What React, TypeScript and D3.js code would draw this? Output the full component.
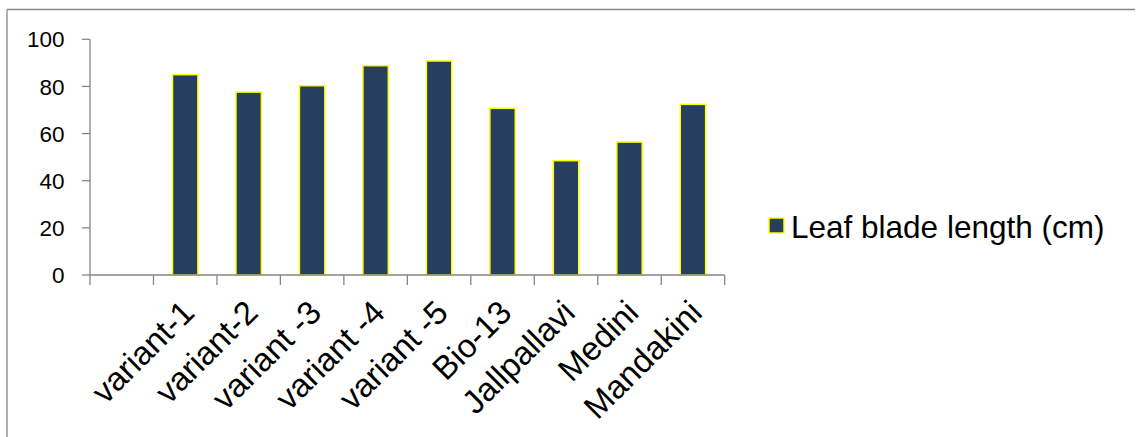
import React from "react";
import * as d3 from "d3";

const categories = ["", "variant-1", "variant-2", "variant -3", "variant -4", "variant -5", "Bio-13", "Jallpallavi", "Medini", "Mandakini"];
const values: (number | null)[] = [null, 85, 77.6, 80.3, 88.8, 90.8, 70.7, 48.5, 56.4, 72.4];
const yTicks = [0, 20, 40, 60, 80, 100];
const seriesName = "Leaf blade length (cm)";

const W = 1141;
const H = 437;
const FONT = "Arial, 'Liberation Sans', sans-serif";
const AXIS = "#868686";
const BAR = "#263F60";
const EDGE = "#FFFF00";

export default function App() {
  const x = d3.scaleBand<string>().domain(categories).range([90, 724.7]).padding(0);
  const y = d3.scaleLinear().domain([0, 100]).range([275, 39.3]);
  const bw = x.bandwidth() * 0.4;
  const y0 = y(0);

  return (
    <svg width={W} height={H} style={{ position: "absolute", left: 0, top: 0, background: "#fff" }}>
      <rect x={0} y={0} width={W} height={H} fill="#fff" />
      {/* chart border (top & left visible) */}
      <line x1={7} y1={9.5} x2={1135} y2={9.5} stroke={AXIS} strokeWidth={1.3} />
      <line x1={7} y1={9.5} x2={7} y2={H} stroke={AXIS} strokeWidth={1.3} />

      {/* y axis */}
      <line x1={90} y1={y(100)} x2={90} y2={y0} stroke={AXIS} strokeWidth={1.3} />
      {yTicks.map((t) => (
        <g key={t}>
          <line x1={82} x2={90} y1={y(t)} y2={y(t)} stroke={AXIS} strokeWidth={1.3} />
          <text x={64.5} y={y(t)} dy="0.36em" textAnchor="end" fontFamily={FONT} fontSize={22.5} fill="#000">
            {t}
          </text>
        </g>
      ))}

      {/* bars */}
      {categories.map((c, i) =>
        values[i] == null ? null : (
          <rect
            key={c}
            x={(x(c) as number) + x.bandwidth() / 2 - bw / 2}
            y={y(values[i] as number)}
            width={bw}
            height={y0 - y(values[i] as number)}
            fill={BAR}
            stroke={EDGE}
            strokeWidth={1.5}
          />
        )
      )}

      {/* x axis */}
      <line x1={90} y1={y0} x2={724.7} y2={y0} stroke={AXIS} strokeWidth={1.3} />
      {[...categories.map((c) => x(c) as number), 724.7].map((tx, i) => (
        <line key={i} x1={tx} x2={tx} y1={y0} y2={y0 + 10} stroke={AXIS} strokeWidth={1.3} />
      ))}
      {categories.map((c) =>
        c === "" ? null : (
          <text
            key={c}
            transform={`translate(${(x(c) as number) + x.bandwidth() / 2 + 11},${y0 + 39.5}) rotate(-45)`}
            textAnchor="end"
            fontFamily={FONT}
            fontSize={33}
            fill="#000"
          >
            {c}
          </text>
        )
      )}

      {/* legend */}
      <rect x={769} y={218} width={15} height={15} fill={BAR} stroke={EDGE} strokeWidth={1.5} />
      <text x={791} y={237.5} fontFamily={FONT} fontSize={31.5} fill="#000">
        {seriesName}
      </text>
    </svg>
  );
}
